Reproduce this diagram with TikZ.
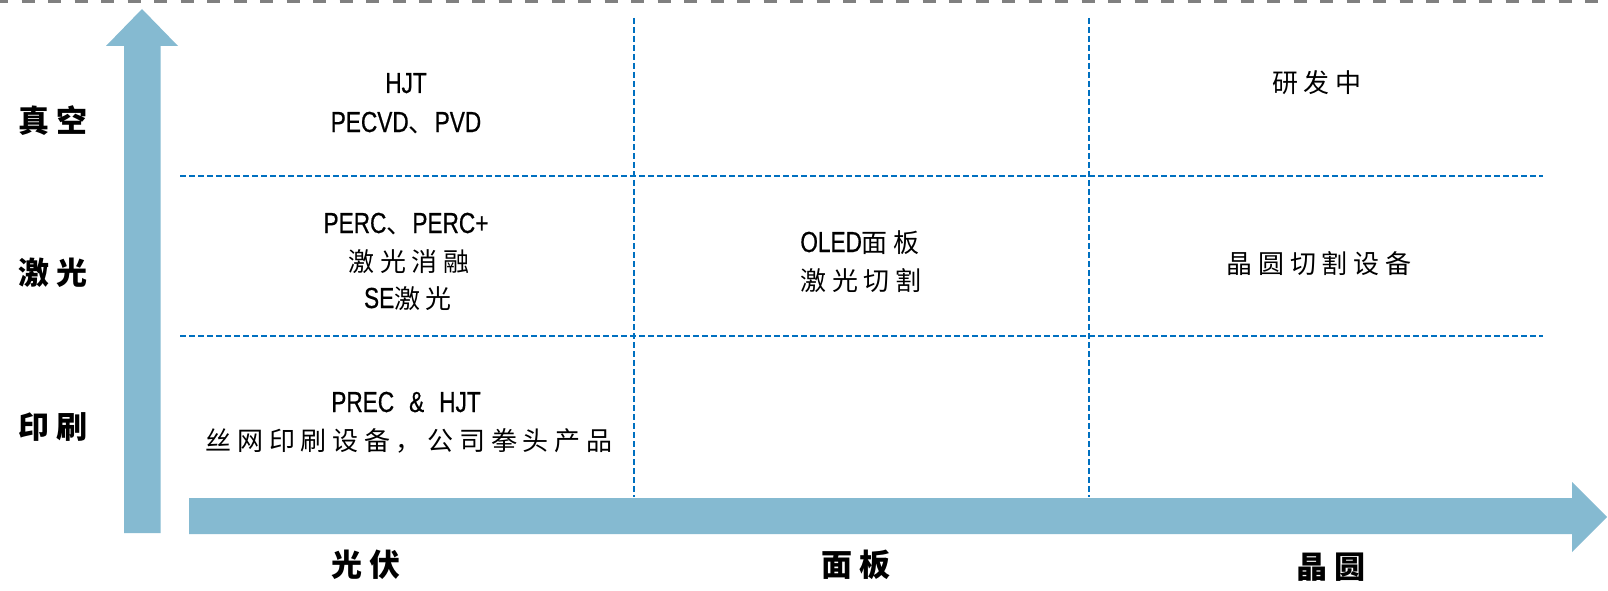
\documentclass[tikz,border=0pt]{standalone}
\usepackage{fontspec}
\setmainfont{Noto Sans CJK SC}
\newfontfamily\latf{Liberation Sans}[FakeStretch=0.78,FakeBold=0.6]
\newcommand\lat{\fontsize{29}{30}\selectfont\latf}
\newfontfamily\cjkf{Noto Sans CJK SC}[LetterSpace=22]
\newcommand\cjk{\fontsize{26}{30}\selectfont\cjkf}
\newfontfamily\cjkb{Noto Sans CJK SC}[LetterSpace=22]
\definecolor{arrowblue}{RGB}{133,186,209}
\definecolor{gridblue}{RGB}{0,112,192}
\definecolor{topgray}{RGB}{128,128,128}
\tikzset{
  bigarrow/.style={fill=arrowblue, draw=none},
  gridline/.style={draw=gridblue, line width=2pt, dash pattern=on 6pt off 3pt},
  topline/.style={draw=topgray, line width=3.5pt, dash pattern=on 13pt off 13.5pt, dash phase=5pt},
  cell/.style={anchor=base, inner sep=0pt, font=\fontsize{25}{30}\selectfont},
  axislabel/.style={anchor=base, inner sep=0pt, font=\fontsize{31}{36}\selectfont\bfseries\cjkb}
}
\begin{document}
\begin{tikzpicture}[x=1pt,y=-1pt]
\useasboundingbox (0,0) rectangle (1608,591);
\fill[white] (0,0) rectangle (1608,591);
% top dashed line
\draw[topline] (0,1.75) -- (1608,1.75);
% arrows
\fill[bigarrow] (124,533) -- (124,46) -- (106,46) -- (142,9) -- (178,46) -- (160.7,46) -- (160.7,533) -- cycle;
\fill[bigarrow] (189,498) -- (1572,498) -- (1572,482) -- (1607,517) -- (1572,552) -- (1572,534) -- (189,534) -- cycle;
% grid
\coordinate (h1l) at (180,176); \coordinate (h1r) at (1543,176);
\coordinate (h2l) at (180,336); \coordinate (h2r) at (1543,336);
\coordinate (v1t) at (634,18); \coordinate (v1b) at (634,497);
\coordinate (v2t) at (1089,18); \coordinate (v2b) at (1089,497);
\draw[gridline] (h1l) -- (h1r);
\draw[gridline] (h2l) -- (h2r);
\draw[gridline] (v1t) -- (v1b);
\draw[gridline] (v2t) -- (v2b);
% left axis labels
\node[axislabel] (y1) at (53,132) {真空};
\node[axislabel] (y2) at (53,284) {激光};
\node[axislabel] (y3) at (53,438) {印刷};
% bottom axis labels
\node[axislabel] (x1) at (366,576) {光伏};
\node[axislabel] (x2) at (856,576) {面板};
\node[axislabel] (x3) at (1331,578) {晶圆};
% cells
\node[cell] (a1) at (406,93) {\lat HJT};
\node[cell] (a2) at (406,132) {\lat PECVD\cjk 、\lat PVD};
\node[cell] (b1) at (406,233) {\lat PERC\cjk 、\lat PERC+};
\node[cell] (b2) at (409,271) {\cjk 激光消融};
\node[cell] (b3) at (408,308) {\lat SE\cjk 激光};
\node[cell] (c1) at (406,412) {\lat PREC\hspace{15pt}\&\hspace{15pt}HJT};
\node[cell] (c2) at (409,450) {\cjk 丝网印刷设备，公司拳头产品};
\node[cell] (d1) at (860,252) {\lat OLED\cjk 面板};
\node[cell] (d2) at (861,290) {\cjk 激光切割};
\node[cell] (e1) at (1317,93) {\cjk 研发中};
\node[cell] (e2) at (1319,273) {\cjk 晶圆切割设备};
\end{tikzpicture}
\end{document}
